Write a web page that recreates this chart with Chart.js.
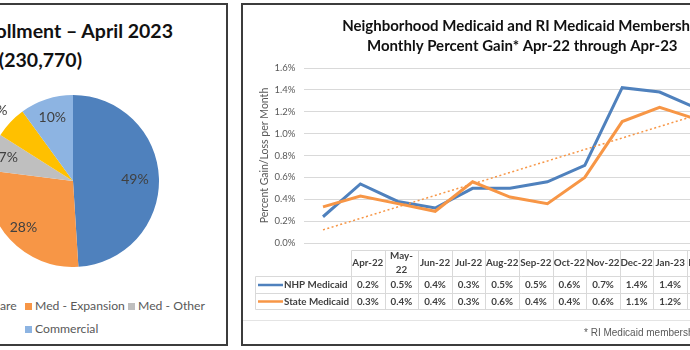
<!DOCTYPE html>
<html><head><meta charset="utf-8">
<script src="https://cdn.jsdelivr.net/npm/chart.js@4.4.0/dist/chart.umd.min.js"></script>
<style>
html,body{margin:0;padding:0;background:#fff;}
body{width:690px;height:350px;position:relative;overflow:hidden;font-family:Lato,sans-serif;}
.panel{position:absolute;box-sizing:border-box;border:2px solid #3c3c3c;z-index:5;pointer-events:none;}
#p1{left:-140px;top:3px;width:368px;height:343px;}
#p2{left:241px;top:3px;width:600px;height:343px;}
.ttl{position:absolute;font-weight:700;font-size:19.5px;line-height:20px;color:#111;white-space:nowrap;}
#t1{right:517px;top:21px;}
#t2{right:608px;top:50px;}
#pieCanvas{position:absolute;left:-13px;top:95px;}
#lineCanvas{position:absolute;left:241px;top:3px;}
.lg{position:absolute;white-space:nowrap;font-size:12.2px;color:#595959;line-height:14px;}
.lg i{display:inline-block;width:7px;height:7px;margin-right:3px;vertical-align:0px;}
#foot{position:absolute;left:584px;top:327px;font-family:"Liberation Sans",Arial,sans-serif;font-size:10px;color:#595959;white-space:nowrap;}
#sep{position:absolute;left:243px;top:320px;width:460px;height:1px;background:#E4E4E4;}
</style>
</head><body>
<div class="panel" id="p1"></div>
<div class="panel" id="p2"></div>
<div class="ttl" id="t1">Total Enrollment – April 2023</div>
<div class="ttl" id="t2">(230,770)</div>
<canvas id="pieCanvas" width="172" height="172"></canvas>
<div id="legendBox"></div>
<canvas id="lineCanvas" width="560" height="343"></canvas>
<div id="sep"></div>
<div id="foot">* RI Medicaid membership based on EOHHS monthly enrollment reports</div>
<script>
// ---- Pie data ----
const pieLabels = ['Med - RIte Care', 'Med - Expansion', 'Med - Other', 'Medicare', 'Commercial'];
const pieValues = [49, 28, 7, 6, 10];
const pieColors = ['#4F81BD', '#F79646', '#BFBFBF', '#FFC000', '#8DB4E2'];
const pieLabelRadius = [0.72, 0.79, 0.80, 1.2, 0.78];

// ---- Line chart data ----
const months = ['Apr-22',['May-','22'],'Jun-22','Jul-22','Aug-22','Sep-22','Oct-22','Nov-22','Dec-22','Jan-23','Feb-23','Mar-23','Apr-23'];
const nhpMedicaid   = [0.24, 0.54, 0.38, 0.32, 0.50, 0.50, 0.56, 0.71, 1.42, 1.38, 1.23, 1.10, 1.00];
const stateMedicaid = [0.33, 0.43, 0.36, 0.29, 0.56, 0.42, 0.36, 0.60, 1.11, 1.24, 1.13, 1.05, 0.95];
const stateTrend    = [0.12, null, null, null, null, null, null, null, null, null, null, null, 1.38];
const yTicks = [0, 0.2, 0.4, 0.6, 0.8, 1.0, 1.2, 1.4, 1.6];
const titleLines = ['Neighborhood Medicaid and RI Medicaid Membership', 'Monthly Percent Gain* Apr-22 through Apr-23'];

// ---- Pie legend (HTML) ----
const lb = document.getElementById('legendBox');
pieLabels.forEach((l, i) => {
  const col = i % 3, row = Math.floor(i / 3);
  const d = document.createElement('div');
  d.className = 'lg';
  d.style.left = (-78 + col * 103) + 'px';
  d.style.top = (299 + row * 23) + 'px';
  d.innerHTML = '<i style="background:' + pieColors[i] + '"></i>' + l;
  lb.appendChild(d);
});

const pieLabelPlugin = {
  id: 'pieLabels',
  afterDatasetsDraw(chart) {
    const meta = chart.getDatasetMeta(0);
    const ctx = chart.ctx;
    ctx.save();
    ctx.font = '14px Lato';
    ctx.fillStyle = '#404040';
    ctx.textAlign = 'center';
    ctx.textBaseline = 'middle';
    meta.data.forEach((arc, i) => {
      const p = arc.getProps(['x','y','startAngle','endAngle','outerRadius'], true);
      const mid = (p.startAngle + p.endAngle) / 2;
      const r = p.outerRadius * pieLabelRadius[i];
      ctx.fillText(pieValues[i] + '%', p.x + Math.cos(mid) * r, p.y + Math.sin(mid) * r);
    });
    ctx.restore();
  }
};

new Chart(document.getElementById('pieCanvas'), {
  type: 'pie',
  data: { labels: pieLabels, datasets: [{ data: pieValues, backgroundColor: pieColors, borderWidth: 0 }] },
  options: {
    responsive: false, animation: false, devicePixelRatio: 1,
    layout: { padding: 0 },
    plugins: { legend: { display: false }, tooltip: { enabled: false } }
  },
  plugins: [pieLabelPlugin]
});

// ---- Data table plugin ----
const tablePlugin = {
  id: 'dataTable',
  afterDraw(chart) {
    const ctx = chart.ctx;
    const ox = 241, oy = 3;
    const L = 351 - ox, W = 33.6, keyL = 255 - ox;
    const yH0 = 250 - oy, yH1 = 276 - oy, yR1 = 293 - oy, yR2 = 309 - oy;
    const labels = chart.data.labels;
    const n = labels.length;
    const R = L + n * W;
    const px = v => Math.round(v) + 0.5;
    ctx.save();
    ctx.strokeStyle = '#D9D9D9';
    ctx.lineWidth = 1;
    const ln = (x1, y1, x2, y2) => { ctx.beginPath(); ctx.moveTo(x1, y1); ctx.lineTo(x2, y2); ctx.stroke(); };
    ln(px(L), px(yH0), R, px(yH0));
    ln(px(keyL), px(yH1), R, px(yH1));
    ln(px(keyL), px(yR1), R, px(yR1));
    ln(px(keyL), px(yR2), R, px(yR2));
    ln(px(keyL), px(yH1), px(keyL), px(yR2));
    for (let i = 0; i <= n; i++) ln(px(L + i * W), px(yH0), px(L + i * W), px(yR2));
    // header
    ctx.fillStyle = '#404040';
    ctx.textAlign = 'center';
    ctx.textBaseline = 'middle';
    ctx.font = 'bold 9.8px Lato';
    const hc = (yH0 + yH1) / 2;
    labels.forEach((m, i) => {
      const cx = L + (i + 0.5) * W;
      if (Array.isArray(m)) {
        ctx.fillText(m[0], cx, hc - 7);
        ctx.fillText(m[1], cx, hc + 7);
      } else ctx.fillText(m, cx, hc);
    });
    // rows
    const rows = [[yH1, yR1], [yR1, yR2]];
    [0, 1].forEach(r => {
      const ds = chart.data.datasets[r];
      const cy = (rows[r][0] + rows[r][1]) / 2 + 0.5;
      ctx.strokeStyle = ds.borderColor;
      ctx.lineWidth = 2.5;
      ln(keyL + 3, cy, keyL + 28, cy);
      ctx.fillStyle = '#404040';
      ctx.textAlign = 'left';
      ctx.fillText(ds.label, keyL + 29, cy);
      ctx.textAlign = 'center';
      ds.data.forEach((v, i) => ctx.fillText(v.toFixed(1) + '%', L + (i + 0.5) * W, cy));
    });
    ctx.restore();
  }
};

new Chart(document.getElementById('lineCanvas'), {
  type: 'line',
  data: {
    labels: months,
    datasets: [
      { label: 'NHP Medicaid', data: nhpMedicaid, borderColor: '#4F81BD', borderWidth: 3, pointRadius: 0, tension: 0, order: 2 },
      { label: 'State Medicaid', data: stateMedicaid, borderColor: '#F79646', borderWidth: 3, pointRadius: 0, tension: 0, order: 1 },
      { label: 'Linear (State Medicaid)', data: stateTrend, borderColor: '#F79646', borderWidth: 1.5, borderDash: [2, 2.5], pointRadius: 0, spanGaps: true, order: 0 }
    ]
  },
  options: {
    responsive: false, animation: false, devicePixelRatio: 1,
    layout: { padding: { left: 13, right: 10.5, top: 0, bottom: 103 } },
    plugins: {
      legend: { display: false }, tooltip: { enabled: false },
      title: { display: true, text: titleLines, color: '#111',
        font: { family: 'Lato', weight: 'bold', size: 15, lineHeight: '20px' },
        padding: { top: 13, bottom: 12 } }
    },
    scales: {
      x: { display: false, offset: true },
      y: {
        min: 0, max: 1.6,
        afterFit(s) { s.width = 50.3; },
        afterBuildTicks(s) { s.ticks = yTicks.map(v => ({ value: v })); },
        ticks: { callback: v => v.toFixed(1) + '%', color: '#595959', font: { family: 'Lato', size: 9.5 }, padding: 9 },
        grid: { color: '#D9D9D9', drawTicks: false, lineWidth: 1 },
        border: { display: false },
        title: { display: true, text: 'Percent Gain/Loss per Month', color: '#595959', font: { family: 'Lato', size: 10.5 }, padding: { top: 4, bottom: 0 } }
      }
    }
  },
  plugins: [tablePlugin]
});
</script>
</body></html>
